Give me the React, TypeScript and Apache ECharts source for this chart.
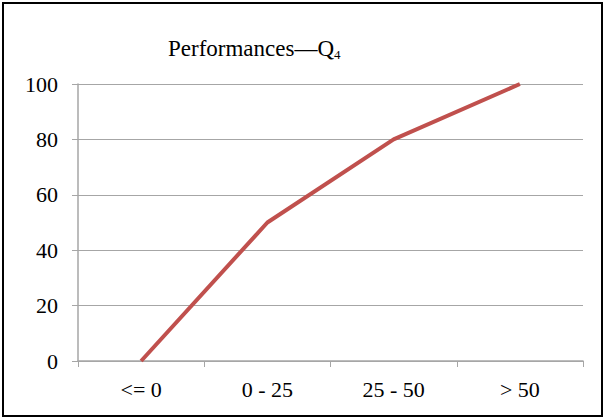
import React, { useEffect, useRef } from "react";
import * as echarts from "echarts";

const categories = ["<= 0", "0 - 25", "25 - 50", "> 50"];
const values = [0, 50, 80, 100];
const yTicks = [0, 20, 40, 60, 80, 100];

export default function App() {
  const ref = useRef<HTMLDivElement>(null);
  useEffect(() => {
    if (!ref.current) return;
    const chart = echarts.init(ref.current, null, { renderer: "svg" });
    const font = "Liberation Serif";
    chart.setOption({
      animation: false,
      backgroundColor: "#ffffff",
      textStyle: { fontFamily: font, fontSize: 22, color: "#000" },
      title: {
        text: "{m|Performances—Q}{s|4}",
        left: 163,
        top: 31,
        textStyle: {
          fontFamily: font,
          fontWeight: "normal",
          rich: {
            m: { fontFamily: font, fontSize: 23, fontWeight: "normal", color: "#000" },
            s: { fontFamily: font, fontSize: 13, fontWeight: "normal", color: "#000", verticalAlign: "bottom", padding: [12, 0, 0, 0] },
          },
        },
      },
      graphic: [
        {
          type: "rect",
          shape: { x: 3, y: 3, width: 599, height: 413 },
          style: { fill: "none", stroke: "#000", lineWidth: 2 },
          silent: true,
        },
      ],
      grid: { left: 78, right: 23, top: 84, bottom: 59 },
      xAxis: {
        type: "category",
        data: categories,
        boundaryGap: true,
        axisLine: { lineStyle: { color: "#a6a6a6", width: 1.5 } },
        axisTick: { show: true, inside: false, length: 6, alignWithLabel: false, lineStyle: { color: "#a6a6a6" } },
        axisLabel: { fontFamily: font, fontSize: 22, color: "#000", margin: 17 },
        splitLine: { show: false },
      },
      yAxis: {
        type: "value",
        min: 0,
        max: 100,
        interval: 20,
        axisLine: { show: true, lineStyle: { color: "#a6a6a6", width: 1.5 } },
        axisTick: { show: true, length: 6, lineStyle: { color: "#a6a6a6" } },
        axisLabel: {
          fontFamily: font,
          fontSize: 22,
          color: "#000",
          margin: 20,
          formatter: (v: number) => (yTicks.includes(v) ? String(v) : ""),
        },
        splitLine: { show: true, lineStyle: { color: "#a6a6a6", width: 1 } },
      },
      series: [
        {
          type: "line",
          data: values,
          symbol: "none",
          lineStyle: { color: "#C0504D", width: 4 },
        },
      ],
    });
    return () => chart.dispose();
  }, []);
  return (
    <div
      ref={ref}
      style={{ position: "fixed", left: 0, top: 0, width: 606, height: 420 }}
    />
  );
}
